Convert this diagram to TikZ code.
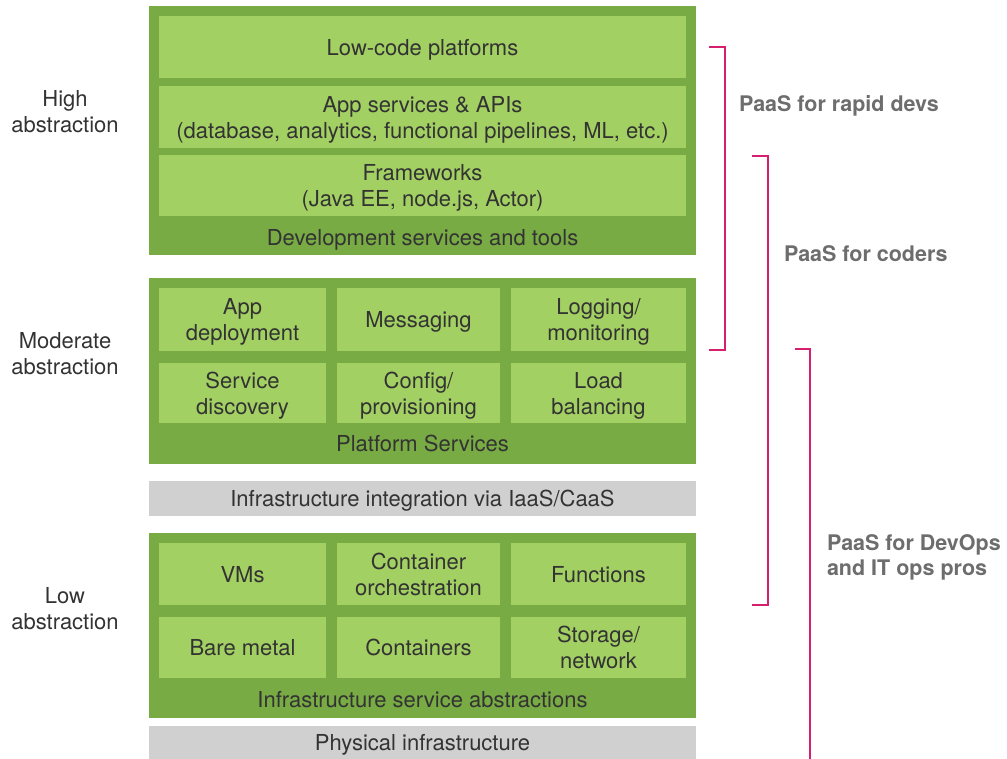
\documentclass[tikz,border=0pt]{standalone}
\usepackage{fontspec}
\setmainfont{TeX Gyre Heros}
\usepackage{xcolor}
\usetikzlibrary{positioning}

\definecolor{outergreen}{RGB}{120,171,67}
\definecolor{cellgreen}{RGB}{163,208,98}
\definecolor{bandgray}{RGB}{208,208,208}
\definecolor{textgray}{RGB}{51,51,51}
\definecolor{labelgray}{RGB}{109,109,109}
\definecolor{bracketpink}{RGB}{214,31,111}

\begin{document}
\begin{tikzpicture}[x=1pt, y=-1pt,
    every node/.style={inner sep=0pt, outer sep=0pt, text depth=0pt, text=textgray, font=\fontsize{22}{26}\selectfont, align=center},
    outer/.style={fill=outergreen, minimum width=547pt},
    cell/.style={fill=cellgreen},
    band/.style={fill=bandgray, minimum width=547pt},
    paas/.style={anchor=west, align=left, text=labelgray, font=\fontsize{21.5}{25}\selectfont\bfseries},
    bracket/.style={draw=bracketpink, line width=1.4pt}]
    \def\cx{422.5}
    \def\cw{527pt}
    \useasboundingbox (0,0) rectangle (1007,759);

    % development services
    \node(dev) [outer, minimum height = 249pt] at (\cx,130.5) {};
    \node(lowcode) [cell, minimum width = \cw, minimum height = 62pt] at (\cx,47) {Low-code platforms};
    \node(apps) [cell, minimum width = \cw, minimum height = 62pt] at (\cx,117) {App services \& APIs\\(database, analytics, functional pipelines, ML, etc.)};
    \node(frame) [cell, minimum width = \cw, minimum height = 61pt] at (\cx,185.5) {Frameworks\\(Java EE, node.js, Actor)};
    \node(devlbl) at (\cx,237) {Development services and tools};

    % platform services
    \node(plat) [outer, minimum height = 186pt] at (\cx,371) {};
    \node(deploy) [cell, minimum width = 167pt, minimum height = 63pt] at (242.5,319.5) {App\\deployment};
    \node(msg) [cell, minimum width = 163pt, minimum height = 63pt] at (418.5,319.5) {Messaging};
    \node(logmon) [cell, minimum width = 175pt, minimum height = 63pt] at (598.5,319.5) {Logging/\\monitoring};
    \node(discov) [cell, minimum width = 167pt, minimum height = 60pt] at (242.5,393) {Service\\discovery};
    \node(config) [cell, minimum width = 163pt, minimum height = 60pt] at (418.5,393) {Config/\\provisioning};
    \node(loadbal) [cell, minimum width = 175pt, minimum height = 60pt] at (598.5,393) {Load\\balancing};
    \node(platlbl) at (\cx,443) {Platform Services};

    \node(integ) [band, minimum height = 35pt] at (\cx,498.5) {Infrastructure integration via IaaS/CaaS};

    % infrastructure services
    \node(infra) [outer, minimum height = 185pt] at (\cx,625.5) {};
    \node(vms) [cell, minimum width = 167pt, minimum height = 62pt] at (242.5,574) {VMs};
    \node(orch) [cell, minimum width = 163pt, minimum height = 62pt] at (418.5,574) {Container\\orchestration};
    \node(func) [cell, minimum width = 175pt, minimum height = 62pt] at (598.5,574) {Functions};
    \node(metal) [cell, minimum width = 167pt, minimum height = 61pt] at (242.5,647.5) {Bare metal};
    \node(contain) [cell, minimum width = 163pt, minimum height = 61pt] at (418.5,647.5) {Containers};
    \node(storage) [cell, minimum width = 175pt, minimum height = 61pt] at (598.5,647.5) {Storage/\\network};
    \node(infralbl) at (\cx,699) {Infrastructure service abstractions};

    \node(phys) [band, minimum height = 33pt] at (\cx,742.5) {Physical infrastructure};

    % abstraction levels
    \node(high) at (65,111) {High\\abstraction};
    \node(moderate) at (65,353) {Moderate\\abstraction};
    \node(low) at (65,608) {Low\\abstraction};

    % brackets
    \coordinate (r1) at (709,47);
    \coordinate (r2) at (709,350);
    \coordinate (c1) at (752,156);
    \coordinate (c2) at (752,605);
    \coordinate (o1) at (795,349);
    \coordinate (o2) at (810,759);
    \draw[bracket] (r1) -- ++(16,0) |- (r2);
    \draw[bracket] (c1) -- ++(16,0) |- (c2);
    \draw[bracket] (o1) -| (o2);

    \node(rapid) [paas] at (739,103) {PaaS for rapid devs};
    \node(coders) [paas] at (784,254) {PaaS for coders};
    \node(devops) [paas] at (827,555) {PaaS for DevOps\\and IT ops pros};
\end{tikzpicture}
\end{document}
